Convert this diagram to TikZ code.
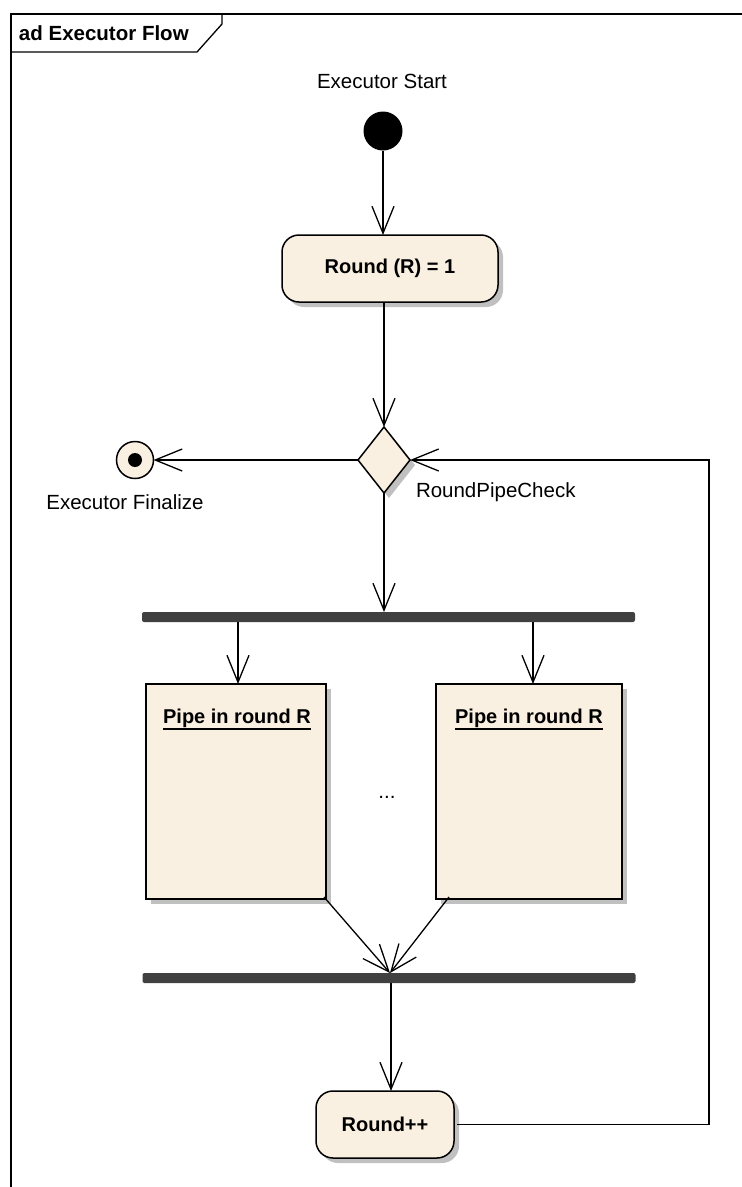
\documentclass[tikz,border=0pt]{standalone}
\usepackage{fontspec}
\setmainfont{Liberation Sans}
\usetikzlibrary{arrows.meta,shapes.geometric,shadows}

\definecolor{cream}{HTML}{FAF0E2}
\definecolor{shade}{HTML}{C0C0C0}
\definecolor{barfill}{HTML}{404040}

\begin{document}
\begin{tikzpicture}[x=1pt,y=-1pt,
  every node/.style={inner sep=0pt, outer sep=0pt},
  lbl/.style={font=\fontsize{20.5}{24}\selectfont},
  boldlbl/.style={font=\bfseries\fontsize{20}{24}\selectfont},
  shadowed/.style={drop shadow={shadow xshift=5pt, shadow yshift=-5pt, fill=shade, opacity=1}},
  action/.style={draw, line width=1.5pt, fill=cream, rounded corners=17pt, shadowed, boldlbl},
  pipebox/.style={draw, line width=1.5pt, fill=cream, shadowed},
  bar/.style={fill=barfill, rounded corners=2pt, minimum width=493pt, minimum height=10pt},
  flow/.style={line width=1.3pt, -{Straight Barb[length=27pt, width=22pt]}},
  edge/.style={line width=1.3pt}
]
\useasboundingbox (0,0) rectangle (742,1187);
\clip (0,0) rectangle (742,1187);

% diagram frame with its name tab
\draw[edge] (11,14) rectangle (770,1220);
\draw[edge] (11,52) -- (197,52) -- (222,24) -- (222,14);
\node[boldlbl, anchor=west, font=\bfseries\fontsize{20.5}{24}\selectfont] (title) at (19,33) {ad Executor Flow};

% initial node
\node[lbl] (stl) at (382,81) {Executor Start};
\node[circle, fill=black, minimum size=39pt] (st) at (383,131) {};

% first action
\node[action, minimum width=216pt, minimum height=67pt] (r1) at (390,268.5) {Round (R) = 1};

% decision
\node[diamond, draw, line width=1.5pt, fill=cream, shadowed, aspect=0.79,
      minimum width=52pt, minimum height=66pt] (dia) at (384,460) {};
\node[lbl, anchor=north west] (dial) at (416,483) {RoundPipeCheck};

% final node
\node[circle, draw, line width=1.5pt, fill=cream, minimum size=37pt] (fin) at (135,460) {};
\node[circle, fill=black, minimum size=14pt] (findot) at (fin) {};
\node[lbl] (finl) at (125,502) {Executor Finalize};

% fork and join bars
\node[bar] (fork) at (388.5,617) {};
\node[bar] (join) at (389,978) {};

% parallel pipes
\node[pipebox, minimum width=180pt, minimum height=215pt] (p1) at (236,791.5) {};
\node[pipebox, minimum width=186pt, minimum height=215pt] (p2) at (529,791.5) {};
\node[boldlbl, anchor=base] (p1t) at (237,723) {Pipe in round R};
\node[boldlbl, anchor=base] (p2t) at (529,723) {Pipe in round R};
\draw[line width=1.5pt] ([yshift=-6pt]p1t.base west) -- ([yshift=-6pt]p1t.base east);
\draw[line width=1.5pt] ([yshift=-6pt]p2t.base west) -- ([yshift=-6pt]p2t.base east);
\node[lbl] (dots) at (387,797) {...};

% increment action
\node[action, minimum width=138pt, minimum height=67pt] (rp) at (385,1124.5) {Round++};

% anchor columns for connectors
\coordinate (c1) at (238,0);
\coordinate (c2) at (533,0);
\coordinate (cj) at (391,0);
\coordinate (loopx) at (709,0);
\coordinate (jtip) at (390,973);

% control flow
\draw[flow] (st) -- (st |- r1.north);
\draw[flow] (r1.south -| dia) -- (dia.north);
\draw[flow] (dia.west) -- (fin.east);
\draw[flow] (dia.south) -- (dia.south |- fork.north);
\draw[flow] (fork.south -| c1) -- (p1.north -| c1);
\draw[flow] (fork.south -| c2) -- (p2.north -| c2);
\draw[flow] ([xshift=-2pt, yshift=2pt]p1.south east) -- (jtip);
\draw[flow] ([xshift=13pt, yshift=2pt]p2.south west) -- (jtip);
\draw[flow] (join.south -| cj) -- (rp.north -| cj);
\draw[flow] ([xshift=3pt]rp.east) -- (rp.east -| loopx) -- (loopx |- dia.east) -- (dia.east);
\end{tikzpicture}
\end{document}
